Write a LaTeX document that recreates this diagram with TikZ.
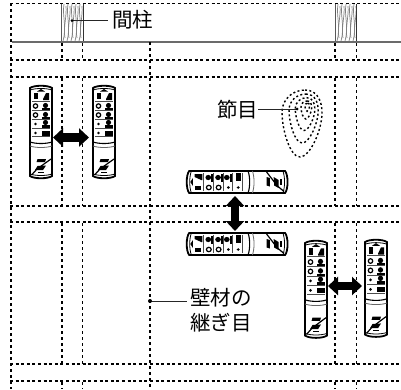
\documentclass[tikz,border=0pt]{standalone}
\usepackage{fontspec}
\setmainfont{Noto Sans CJK JP}
\usetikzlibrary{arrows.meta}
\definecolor{beamgrey}{gray}{0.42}
\definecolor{grain}{gray}{0.5}
\tikzset{
 x=1pt,y=-1pt,
 heavydash/.style={line width=1.7pt,dash pattern=on 3pt off 3pt},
 lightdash/.style={line width=1pt,dash pattern=on 3pt off 3pt},
 hdash/.style={line width=1.5pt,dash pattern=on 3pt off 2.6pt},
 beam/.style={line width=1.6pt,color=beamgrey},
 leader/.style={line width=0.9pt,color=black!85},
 lbl/.style={font=\fontsize{20.5}{25}\selectfont,inner sep=0pt,align=left},
 bigarrow/.style={line width=8.5pt,{Triangle[length=10pt,width=18pt]}-{Triangle[length=10pt,width=18pt]}},
 knot/.style={line width=1.4pt,dash pattern=on 2pt off 2.4pt},
 grainline/.style={line width=0.7pt,color=grain},
 pics/remote/.style={code={
  \draw[line width=1.8pt,fill=white] (0,2) .. controls (4,-1) and (18,-1) .. (22,2) -- (22,90) .. controls (18,93) and (4,93) .. (0,90) -- cycle;
  \draw[line width=0.8pt] (0,4) .. controls (6,2) and (16,2) .. (22,4);
  \draw[line width=1.1pt] (0,56) .. controls (6,58) and (16,58) .. (22,56);
  \draw[line width=0.8pt,color=black!60] (0,60) .. controls (6,62) and (16,62) .. (22,60);
  \draw[line width=0.8pt] (0,88) .. controls (6,90) and (16,90) .. (22,88);
  \fill (7,5.5) -- (11,3) -- (15,5.5) -- cycle;
  \fill (3.5,7) rectangle (7.5,13); \fill (13,13) -- (16,7) -- (19,7) -- (19,14) -- (13,14) -- cycle;
  \foreach \r in {15,24.5,33.5,42,50.5}{\draw[line width=0.6pt,color=black!70] (2,\r) -- (20,\r);}
  \draw[line width=1.2pt] (5.5,20) circle (2.2pt);
  \fill (11.5,22) rectangle (19.5,24); \fill (15.5,19.5) circle (2.6pt);
  \draw[line width=1.2pt] (5.5,29) circle (2.2pt);
  \fill (11.5,31) rectangle (19.5,33); \fill (15.5,28.5) circle (2.6pt);
  \fill (5.5,38) circle (1.4pt); \fill (11.5,39) rectangle (19.5,41.5); \fill (15.5,36.5) circle (2.6pt);
  \fill (5.5,47) circle (1.4pt); \fill (12,45) rectangle (20,49.5);
  \fill (7.5,73) -- (16,73) -- (15,76) -- (6.5,76) -- cycle;
  \fill (5,84) -- (7.5,80) -- (16,79.5) -- (13,84) -- cycle;
  \fill (8,85.5) rectangle (14,87);
  \draw[line width=1.2pt] (1.5,89) -- (7,83) -- (21,73);
 }},
}
\begin{document}
\begin{tikzpicture}
\useasboundingbox (0,0) rectangle (401,389);
% wood studs
\foreach \xa/\xb in {61/83,335/356}{
 \foreach \d in {3,7,11,15,19}{
  \draw[grainline] (\xa+\d,4) .. controls (\xa+\d-2,16) and (\xa+\d+3,26) .. (\xa+\d-1,41);
  \draw[grainline] (\xa+\d+2,6) .. controls (\xa+\d+3,16) and (\xa+\d-1,28) .. (\xa+\d+1,38);
 }
 \draw[line width=1pt,color=black!65] (\xa,4) -- (\xa,42);
 \draw[line width=1pt,color=black!80] (\xb,4) -- (\xb,42);
}
% grid
\draw[beam] (12,42) -- (401,42);
\foreach \yy in {60,77,206,222,364,381}{\draw[hdash] (10,\yy) -- (401,\yy);}
\draw[line width=1.1pt,dash pattern=on 3pt off 2.6pt] (10,3.5) -- (401,3.5);
\draw[heavydash] (11,3) -- (11,389);
\draw[heavydash] (150,42) -- (150,389);
\foreach \xv in {62,335}{
 \foreach \ya/\yb in {43/60,78/206,223/364,382/389}{\draw[heavydash] (\xv,\ya) -- (\xv,\yb);}}
\foreach \xv in {82.5,356}{
 \foreach \ya/\yb in {43/60,78/206,223/364,382/389}{\draw[lightdash] (\xv,\ya) -- (\xv,\yb);}}
% knot
\foreach \s in {1,0.73,0.49,0.27,0.12}{
 \begin{scope}[shift={(308,105)},scale=\s]
  \draw[knot] (-3,-15) .. controls (10,-15) and (14,-3) .. (14,8)
   .. controls (14,25) and (2,52) .. (-8,52)
   .. controls (-18,52) and (-26,25) .. (-26,7)
   .. controls (-26,-5) and (-16,-15) .. (-3,-15) -- cycle;
 \end{scope}
}
% remotes
\pic[shift={(30,86)}] {remote};
\pic[shift={(93,86)}] {remote};
\pic[shift={(305,241)},yscale=1.05] {remote};
\pic[shift={(365,240)},yscale=1.05] {remote};
\pic[shift={(187,193)},rotate=90,yscale=1.09] {remote};
\pic[shift={(187,255)},rotate=90,yscale=1.09] {remote};
% arrows
\coordinate (aL) at (53,137.5); \coordinate (bL) at (89,137.5);
\coordinate (aM) at (235,196); \coordinate (bM) at (235,231);
\coordinate (aR) at (328,286); \coordinate (bR) at (362,286);
\draw[bigarrow] (aL) -- (bL);
\draw[bigarrow] (aM) -- (bM);
\draw[bigarrow] (aR) -- (bR);
% labels
\node[lbl,anchor=west] (stud) at (112,20) {間柱};
\coordinate (studpt) at (72,20.5);
\coordinate (studend) at (108,20.5);
\draw[leader] (studpt) -- (studend);
\fill (studpt) circle (1.5pt);
\node[lbl,anchor=west] (knotlbl) at (217,110) {節目};
\coordinate (knotpt) at (297,109);
\draw[leader] (knotlbl.east |- knotpt) -- (knotpt);
\fill (knotpt) circle (1.5pt);
\node[lbl,anchor=north west] (joint) at (190,288) {壁材の\\継ぎ目};
\coordinate (jointpt) at (150,301);
\coordinate (jointend) at (187,301);
\draw[leader] (jointpt) -- (jointend);
\fill (jointpt) circle (2pt);
\end{tikzpicture}
\end{document}
